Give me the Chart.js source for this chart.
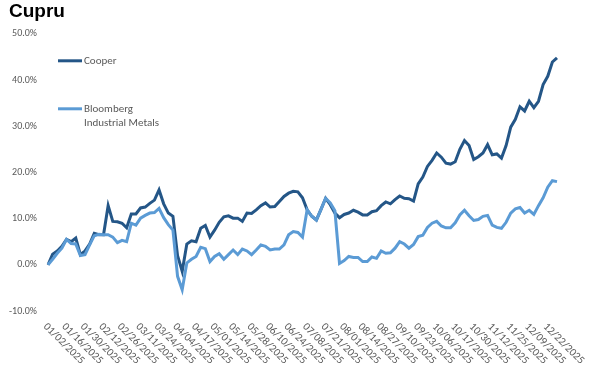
<!DOCTYPE html>
<html>
<head>
<meta charset="utf-8">
<script src="https://cdn.jsdelivr.net/npm/chart.js@4.4.1/dist/chart.umd.min.js"></script>
<style>
  body{margin:0;background:#fff;}
  #box{width:600px;height:366px;}
</style>
</head>
<body>
<div id="box"><canvas id="myChart" width="600" height="366"></canvas></div>
<script>
// tick labels shown under the x axis (one every 4 points)
const tickLabels = ["01/02/2025","01/16/2025","01/30/2025","02/12/2025","02/26/2025","03/11/2025","03/24/2025",
  "04/04/2025","04/17/2025","05/01/2025","05/14/2025","05/28/2025","06/10/2025","06/24/2025",
  "07/08/2025","07/21/2025","08/01/2025","08/14/2025","08/27/2025","09/10/2025","09/23/2025",
  "10/06/2025","10/17/2025","10/30/2025","11/12/2025","11/25/2025","12/09/2025","12/22/2025"];

const cooper = [0,2.3,3.0,4.0,5.5,5.0,5.8,2.2,3.0,4.5,6.8,6.5,6.5,12.8,9.4,9.3,9.0,8.0,11.0,11.0,
  12.3,12.5,13.3,14.0,16.2,13.2,11.2,10.5,2.0,-1.4,4.5,5.2,5.0,7.9,8.5,6.0,7.5,9.2,10.4,10.6,
  10.1,10.1,9.4,11.2,11.1,11.9,12.8,13.4,12.5,12.6,13.7,14.8,15.5,15.9,15.8,14.5,11.9,10.5,9.7,12.0,
  14.4,13.0,11.2,10.2,10.9,11.2,11.8,11.4,10.8,10.8,11.5,11.7,12.8,13.6,13.2,14.1,14.9,14.4,14.3,13.8,
  17.5,19.0,21.3,22.6,24.2,23.3,22.0,21.8,22.3,25.0,26.9,25.8,22.8,23.4,24.2,26.0,23.8,24.0,23.1,25.8,
  29.8,31.5,34.2,33.3,35.4,34.0,35.4,39.0,40.8,43.9,44.8];

const bloomberg = [0,1.2,2.5,3.6,5.5,4.6,4.5,2.0,2.2,4.3,6.3,6.6,6.5,6.5,6.0,4.8,5.3,5.0,9.0,8.6,
  10.1,10.7,11.2,11.3,12.2,10.2,8.7,7.5,-2.5,-5.4,0.4,1.2,1.8,3.8,3.5,0.7,1.8,2.4,1.2,2.2,
  3.2,2.2,3.4,3.0,2.2,3.2,4.3,4.0,3.2,3.4,3.4,4.3,6.5,7.2,7.0,6.0,11.9,10.5,9.7,12.0,
  14.4,13.4,11.7,0.3,0.9,1.8,1.6,1.6,0.7,0.7,1.7,1.4,3.0,2.5,2.6,3.6,5.0,4.5,3.6,4.4,
  6.1,6.4,8.1,9.0,9.4,8.4,8.0,8.0,9.1,10.8,11.8,10.6,9.6,9.8,10.5,10.7,8.6,8.1,7.9,9.2,
  11.2,12.1,12.4,11.2,11.8,10.9,12.8,14.5,16.8,18.2,18.0];

const seriesNames = ["Cooper","Bloomberg Industrial Metals"];
const legendLines = [["Cooper"],["Bloomberg","Industrial Metals"]];

const tickFont = "11px Carlito, Calibri, 'Open Sans', sans-serif";
const grey = "#595959";

document.addEventListener('DOMContentLoaded',()=>{
    RenderChart();
})

function RenderChart(){
    const labels = cooper.map((v,i)=> i % 4 === 0 ? (tickLabels[i/4] || '') : '');

    // rotated date labels, placed from the category scale
    const dateLabels = {
        id:'dateLabels',
        afterDraw(chart){
            const ctx = chart.ctx;
            const xs = chart.scales.x;
            ctx.save();
            ctx.font = tickFont;
            ctx.fillStyle = grey;
            ctx.textAlign = 'left';
            ctx.textBaseline = 'middle';
            labels.forEach((l,i)=>{
                if(!l) return;
                const x = xs.getPixelForValue(i);
                ctx.save();
                ctx.translate(x - 3, chart.chartArea.bottom + 14);
                ctx.rotate(Math.PI/4);
                ctx.fillText(l,0,0);
                ctx.restore();
            })
            ctx.restore();
        }
    };

    // legend sitting inside the plot, top left
    const innerLegend = {
        id:'innerLegend',
        afterDraw(chart){
            const ctx = chart.ctx;
            const a = chart.chartArea;
            const rows = [27,75];
            ctx.save();
            ctx.font = tickFont;
            ctx.textBaseline = 'middle';
            ctx.textAlign = 'left';
            chart.data.datasets.forEach((ds,k)=>{
                const y = a.top + rows[k];
                ctx.strokeStyle = ds.borderColor;
                ctx.lineWidth = 3;
                ctx.beginPath();
                ctx.moveTo(a.left + 10, y);
                ctx.lineTo(a.left + 34, y);
                ctx.stroke();
                ctx.fillStyle = grey;
                legendLines[k].forEach((t,j)=>{
                    ctx.fillText(t, a.left + 36, y + j*14);
                })
            })
            ctx.restore();
        }
    };

    const ctx = document.getElementById('myChart');
    const chart = new Chart(ctx,{
        type:'line',
        data:{
            labels:labels,
            datasets:[{
                label:seriesNames[0],
                data:cooper,
                borderColor:'#245687',
                borderWidth:3,
                pointRadius:0,
                tension:0,
                order:1
            },{
                label:seriesNames[1],
                data:bloomberg,
                borderColor:'#5b9bd5',
                borderWidth:3,
                pointRadius:0,
                tension:0,
                order:0
            }]
        },
        options:{
            responsive:false,
            animation:false,
            layout:{padding:{left:9,right:43,top:0,bottom:0}},
            plugins:{
                legend:{display:false},
                tooltip:{enabled:false},
                title:{
                    display:true,
                    text:'Cupru',
                    align:'start',
                    color:'#000',
                    font:{family:"'Liberation Sans', Arial, sans-serif",size:19,weight:'bold'},
                    padding:{top:0,bottom:11}
                }
            },
            scales:{
                x:{
                    grid:{display:false,drawTicks:false},
                    border:{display:false},
                    ticks:{display:false},
                    afterFit:(s)=>{ s.height = 55; }
                },
                y:{
                    min:-10,
                    max:50,
                    grid:{display:false,drawTicks:false},
                    border:{display:false},
                    ticks:{
                        stepSize:10,
                        padding:11,
                        color:grey,
                        font:{family:"Carlito, Calibri, 'Open Sans', sans-serif",size:10},
                        callback:(v)=> v.toFixed(1) + '%'
                    },
                    afterFit:(s)=>{ s.width = 39; }
                }
            }
        },
        plugins:[dateLabels,innerLegend]
    });
    console.log(chart);
}
</script>
</body>
</html>
